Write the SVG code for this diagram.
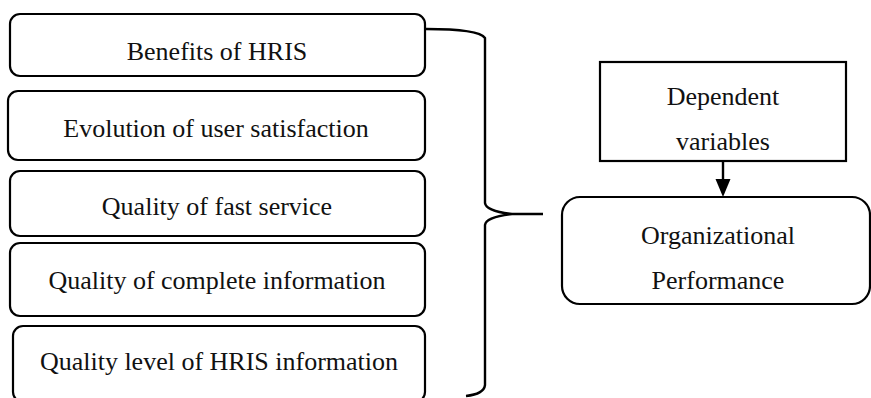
<svg xmlns="http://www.w3.org/2000/svg" width="871" height="398" viewBox="0 0 871 398">
<style>
.box{fill:#fff;stroke:#000;stroke-width:2.2}
.t{font-family:"Liberation Serif","Times New Roman",serif;font-size:26px;fill:#111;text-anchor:middle}
.ln{fill:none;stroke:#000;stroke-width:2.4}
</style>
<rect width="871" height="398" fill="#fff"/>
<g id="n1"><rect class="box" x="10" y="14" width="415" height="62" rx="10"/><text class="t" x="217" y="60">Benefits of HRIS</text></g>
<g id="n2"><rect class="box" x="8" y="91" width="417" height="69" rx="10"/><text class="t" x="216" y="137">Evolution of user satisfaction</text></g>
<g id="n3"><rect class="box" x="10" y="171" width="415" height="65" rx="10"/><text class="t" x="217" y="215">Quality of fast service</text></g>
<g id="n4"><rect class="box" x="10" y="243" width="415" height="73" rx="10"/><text class="t" x="217" y="289">Quality of complete information</text></g>
<g id="n5"><rect class="box" x="13" y="326" width="412" height="76" rx="10"/><text class="t" x="219" y="370">Quality level of HRIS information</text></g>
<g id="n6"><rect class="box" x="600" y="62" width="246" height="99"/><text class="t" x="723" y="105">Dependent</text><text class="t" x="723" y="150">variables</text></g>
<g id="n7"><rect class="box" x="562" y="197" width="308" height="107" rx="18"/><text class="t" x="718" y="244">Organizational</text><text class="t" x="718" y="289">Performance</text></g>
<g id="connectors">
<path class="ln" d="M426,29 C460,29 481,32 485,38 L485,203 Q486,211 512,214 L543,214 M512,214 Q486,217 485,225 L485,385 Q484,394 466,396"/>
<line x1="723" y1="161" x2="723" y2="181" stroke="#000" stroke-width="2.4"/>
<path d="M715.5,179 L730.5,179 L723,197 Z" fill="#000"/>
</g>
</svg>
